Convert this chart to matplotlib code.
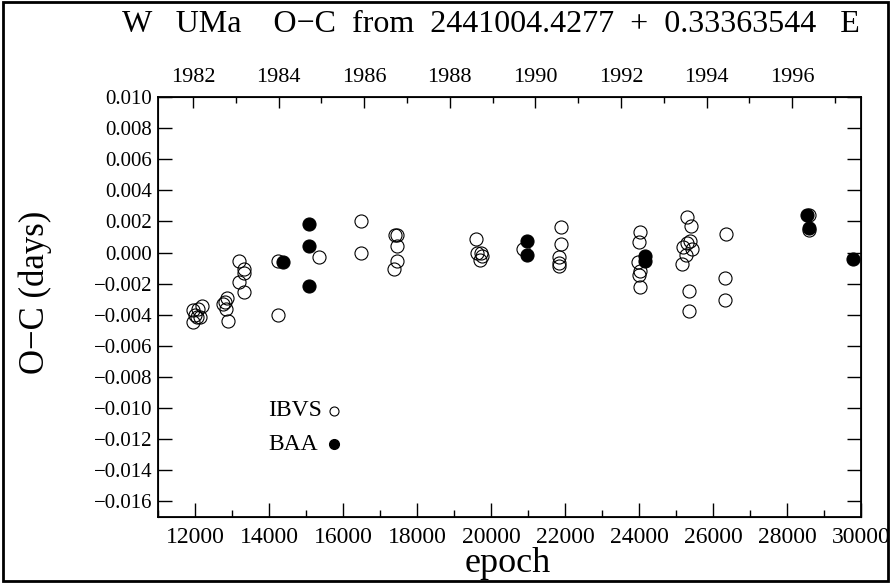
import matplotlib
matplotlib.use("Agg")
import matplotlib.pyplot as plt
from matplotlib.patches import Rectangle
from matplotlib.ticker import MultipleLocator, FuncFormatter

plt.rcParams["font.family"] = ["Liberation Serif", "DejaVu Serif"]

# O-C residuals (days) vs cycle number
ibvs_epoch = [11955, 11937, 12045, 12180, 12135, 11990, 12090,
              12811, 12766, 12874, 12838, 12883,
              13198, 13333, 13333, 13198, 13333,
              14234, 14243, 15360, 16486, 16486,
              17405, 17450, 17467, 17450, 17378,
              19586, 19630, 19720, 19748, 19703, 20857,
              21884, 21884, 21830, 21846, 21846,
              24027, 24009, 23982, 24027, 24009, 24027,
              25289, 25397, 25378, 25306, 25198, 25424, 25270, 25153, 25357, 25357,
              26351, 26324, 26324,
              28595, 28603]
ibvs_oc = [-0.00370, -0.00445, -0.00417, -0.00344, -0.00417, -0.00400, -0.00360,
           -0.00316, -0.00331, -0.00295, -0.00363, -0.00438,
           -0.00053, -0.00108, -0.00130, -0.00192, -0.00252,
           -0.00053, -0.00404, -0.00031, -0.00001, 0.00206,
           0.00113, 0.00113, 0.00042, -0.00053, -0.00108,
           0.00085, -0.00001, -0.00005, -0.00023, -0.00048, 0.00021,
           0.00166, 0.00055, -0.00027, -0.00069, -0.00087,
           0.00134, 0.00070, -0.00059, -0.00117, -0.00145, -0.00224,
           0.00226, 0.00170, 0.00076, 0.00059, 0.00033, 0.00021, -0.00016, -0.00074, -0.00246, -0.00374,
           0.00119, -0.00166, -0.00305,
           0.00241, 0.00145]

baa_epoch = [14369, 15090, 15090, 15090, 20965, 20965, 24162, 24162, 28532, 28603, 29775]
baa_oc = [-0.00061, 0.00183, 0.00044, -0.00213, 0.00076, -0.00016,
          -0.00023, -0.00055, 0.00241, 0.00156, -0.00044]

# calendar years along the top axis
years = [1982, 1984, 1986, 1988, 1990, 1992, 1994, 1996]
minor_years = [1983, 1985, 1987, 1989, 1991, 1993, 1995, 1997]
epoch_1982 = 11946
epochs_per_year = 1157


def year_to_epoch(y):
    return epoch_1982 + (y - 1982) * epochs_per_year


def oc_fmt(v, pos):
    return f"{v:.3f}".replace("-", "\u2212")


fig = plt.figure(figsize=(8.91, 5.83), dpi=100)
ax = fig.add_axes([0.1773, 0.1132, 0.789, 0.7204])

ax.plot(ibvs_epoch, ibvs_oc, "o", ms=9.4, mfc="none", mec="black", mew=0.8)
ax.plot(baa_epoch, baa_oc, "o", ms=9.4, mfc="black", mec="black", mew=0.8)

ax.set_xlim(11000, 30000)
ax.set_ylim(-0.017, 0.010)
ax.xaxis.set_major_locator(MultipleLocator(2000))
ax.xaxis.set_minor_locator(MultipleLocator(1000))
ax.yaxis.set_major_locator(MultipleLocator(0.002))
ax.yaxis.set_major_formatter(FuncFormatter(oc_fmt))
ax.tick_params(axis="x", which="major", direction="in", length=10, width=1,
               labelsize=17, pad=7, top=False)
ax.tick_params(axis="x", which="minor", direction="in", length=5, width=1, top=False)
ax.tick_params(axis="y", which="major", direction="in", length=10, width=1,
               labelsize=15, right=True, pad=4)
for s in ax.spines.values():
    s.set_linewidth(1.3)

ax.set_xlabel("epoch", fontsize=26)
ax.xaxis.label.set_va("center")
ax.xaxis.set_label_coords(0.497, -0.11)
ax.set_ylabel("O−C (days)", fontsize=25)
ax.yaxis.label.set_va("center")
ax.yaxis.set_label_coords(-0.175, 0.536)

top = ax.twiny()
top.set_xlim(ax.get_xlim())
top.set_xticks([year_to_epoch(y) for y in years])
top.set_xticklabels([str(y) for y in years])
top.set_xticks([year_to_epoch(y) for y in minor_years], minor=True)
top.tick_params(axis="x", which="major", direction="in", length=8, width=1,
                labelsize=16, pad=7)
top.tick_params(axis="x", which="minor", direction="in", length=4, width=1)

fig.text(0.551, 0.958, "W   UMa    O−C  from  2441004.4277  +  0.33363544   E",
         ha="center", va="center", fontsize=23)

# key
ax.text(0.2333, 0.2524, "IBVS", transform=ax.transAxes, ha="right", va="center",
        fontsize=17)
ax.plot([0.2504], [0.2524], "o", ms=6.5, mfc="none", mec="black", mew=0.8,
        transform=ax.transAxes)
ax.text(0.2276, 0.1738, "BAA", transform=ax.transAxes, ha="right", va="center",
        fontsize=17)
ax.plot([0.2504], [0.1738], "o", ms=7, mfc="black", mec="black",
        transform=ax.transAxes)

fig.patches.append(Rectangle((0.003, 0.004), 0.994, 0.992, transform=fig.transFigure,
                             fill=False, edgecolor="black", linewidth=2))

fig.savefig("out.png", dpi=100)
